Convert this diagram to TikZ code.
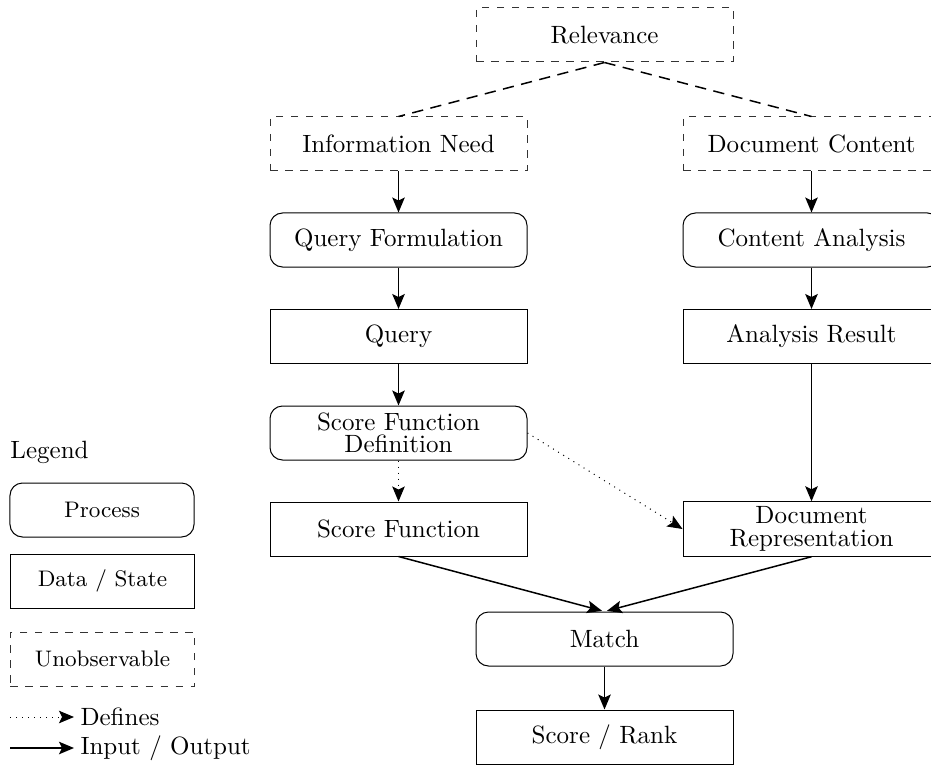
\documentclass[tikz,border=0pt]{standalone}
\usetikzlibrary{arrows.meta}
\begin{document}
\begin{tikzpicture}[x=0.4pt,y=-0.4pt,
  box/.style={draw,minimum width=102.8pt,minimum height=21.6pt,inner sep=2pt,align=center},
  proc/.style={box,rounded corners=5pt},
  datum/.style={box},
  hidden/.style={box,dashed,draw=black!80},
  legbox/.style={draw,minimum width=73.6pt,minimum height=21.6pt,font=\small},
  tip/.style={-{Stealth[length=6pt,width=5pt,inset=1.2pt]}},
  io/.style={tip,semithick},
  defines/.style={tip,dotted},
  link/.style={semithick,dash pattern=on 4.5pt off 3pt}]
\useasboundingbox (0,0) rectangle (931,765);

% main flow
\node[hidden] (rel)  at (604.5,35)  {Relevance};
\node[hidden] (need) at (398.5,144) {Information Need};
\node[hidden] (doc)  at (811.5,144) {Document Content};
\node[proc]   (qf)   at (398.5,240) {Query Formulation};
\node[proc]   (ca)   at (811.5,240) {Content Analysis};
\node[datum]  (q)    at (398.5,336.5) {Query};
\node[datum]  (ar)   at (811.5,336.5) {Analysis Result};
\node[proc]   (sfd)  at (398.5,433) {Score Function\\[-3pt]Definition};
\node[datum]  (sf)   at (398.5,529) {Score Function};
\node[datum]  (dr)   at (811.5,529) {Document\\[-3pt]Representation};
\node[proc]   (m)    at (604.5,639) {Match};
\node[datum]  (sr)   at (604.5,737) {Score / Rank};

\draw[link] (rel.south) -- (need.north);
\draw[link] (rel.south) -- (doc.north);
\draw[io] (need) -- (qf);
\draw[io] (doc) -- (ca);
\draw[io] (qf) -- (q);
\draw[io] (ca) -- (ar);
\draw[io] (q) -- (sfd);
\draw[io] (ar) -- (dr);
\draw[defines] (sfd) -- (sf);
\draw[defines] (sfd.east) -- (dr.west);
\draw[io,shorten >=1pt] (sf.south) -- (m.north);
\draw[io,shorten >=1pt] (dr.south) -- (m.north);
\draw[io] (m) -- (sr);

% legend
\node[anchor=west,inner sep=0pt] (leg) at (10,452) {Legend};
\node[legbox,rounded corners=5pt] (lp) at (102,510) {Process};
\node[legbox] (ld) at (102.5,581) {Data / State};
\node[legbox,dashed,draw=black!80] (lu) at (102.5,659) {Unobservable};
\coordinate (da) at (10,717);
\node[anchor=west,inner xsep=2.4pt,inner ysep=0pt] (ldef) at (74,717) {Defines};
\draw[defines] (da) -- (ldef.west);
\coordinate (ia) at (10,748);
\node[anchor=west,inner xsep=2.4pt,inner ysep=0pt] (lio) at (74,748) {Input / Output};
\draw[io] (ia) -- (lio.west);
\end{tikzpicture}
\end{document}
